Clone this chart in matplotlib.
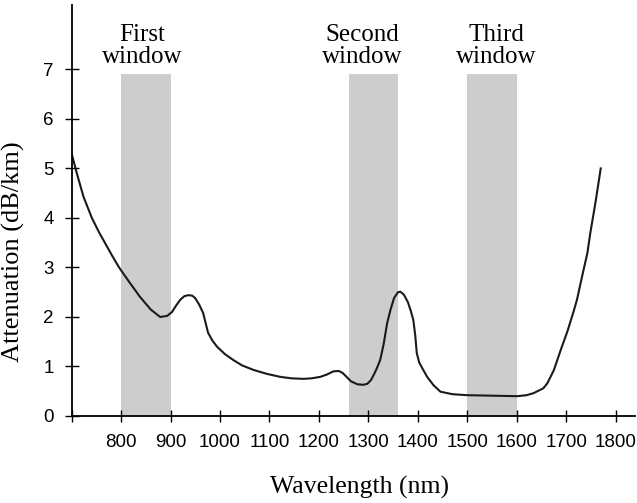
import numpy as np
import matplotlib.pyplot as plt

# attenuation curve
wavelength = [700, 712, 724, 741, 755, 770, 783, 796, 817, 838, 860, 879, 893, 903,
              912, 920, 928, 936, 944, 950, 958, 966, 971, 976, 985, 994, 1010,
              1027, 1045, 1068, 1095, 1122, 1145, 1169, 1185, 1203, 1217, 1229,
              1240, 1248, 1255, 1265, 1278, 1290, 1298, 1305, 1312, 1318, 1324,
              1331, 1338, 1345, 1352, 1360, 1365, 1372, 1380, 1386, 1391, 1395,
              1398, 1403, 1410, 1419, 1432, 1446, 1470, 1500, 1550, 1601, 1620,
              1634, 1654, 1662, 1675, 1689, 1703, 1716, 1722, 1733, 1743, 1749,
              1760, 1770]
attenuation = [5.3, 4.85, 4.43, 4.0, 3.72, 3.45, 3.22, 3.0, 2.7, 2.41, 2.15, 2.0,
               2.02, 2.1, 2.24, 2.35, 2.42, 2.44, 2.43, 2.38, 2.25, 2.08, 1.88,
               1.68, 1.52, 1.40, 1.25, 1.13, 1.02, 0.93, 0.85, 0.79, 0.76, 0.75,
               0.76, 0.79, 0.84, 0.90, 0.91, 0.87, 0.80, 0.70, 0.64, 0.63, 0.65,
               0.72, 0.85, 0.98, 1.13, 1.45, 1.87, 2.15, 2.38, 2.50, 2.51, 2.45,
               2.3, 2.12, 1.94, 1.62, 1.27, 1.08, 0.95, 0.79, 0.62, 0.49, 0.44,
               0.42, 0.41, 0.40, 0.42, 0.46, 0.56, 0.66, 0.92, 1.33, 1.72, 2.14,
               2.35, 2.85, 3.29, 3.70, 4.35, 5.0]

windows = [(800, 900), (1260, 1360), (1500, 1600)]
window_labels = ['First\nwindow', 'Second\nwindow', 'Third\nwindow']
label_x = [842, 1288, 1559]

x_ticks = [700, 800, 900, 1000, 1100, 1200, 1300, 1400, 1500, 1600, 1700, 1800]
x_ticklabels = [''] + [str(t) for t in x_ticks[1:]]
y_ticks = [0, 1, 2, 3, 4, 5, 6, 7]

fig = plt.figure(figsize=(6.37, 5.03), dpi=100)
ax = fig.add_axes([0.1124, 0.173, 0.885, 0.817])

for (lo, hi) in windows:
    ax.fill_between([lo, hi], 0, 6.9, color='#cdcdcd', lw=0, zorder=1)
for lx, txt in zip(label_x, window_labels):
    ax.text(lx, 7.47, txt, ha='center', va='center', fontsize=18,
            family='Liberation Serif', linespacing=1.0)

ax.plot(wavelength, attenuation, color='#1a1a1a', lw=1.5, zorder=3)

ax.set_xlim(700, 1840)
ax.set_ylim(0, 8.3)
for side in ['top', 'right']:
    ax.spines[side].set_visible(False)
for side in ['left', 'bottom']:
    ax.spines[side].set_linewidth(1.3)
    ax.spines[side].set_zorder(4)

ax.set_xticks(x_ticks)
ax.set_xticklabels(x_ticklabels, family='Liberation Sans', fontsize=13.5)
ax.set_yticks(y_ticks)
ax.set_yticklabels([str(t) for t in y_ticks], family='Liberation Sans', fontsize=13.5)
ax.tick_params(axis='x', direction='inout', length=8, width=1, pad=9)
ax.tick_params(axis='y', direction='inout', length=10, width=1, pad=8)

ax.set_xlabel('Wavelength (nm)', family='Liberation Serif', fontsize=18.5)
ax.set_ylabel('Attenuation (dB/km)', family='Liberation Serif', fontsize=19)
ax.xaxis.set_label_coords(0.51, -0.145)
ax.yaxis.set_label_coords(-0.082, 0.40)

fig.savefig('out.png', dpi=100)
